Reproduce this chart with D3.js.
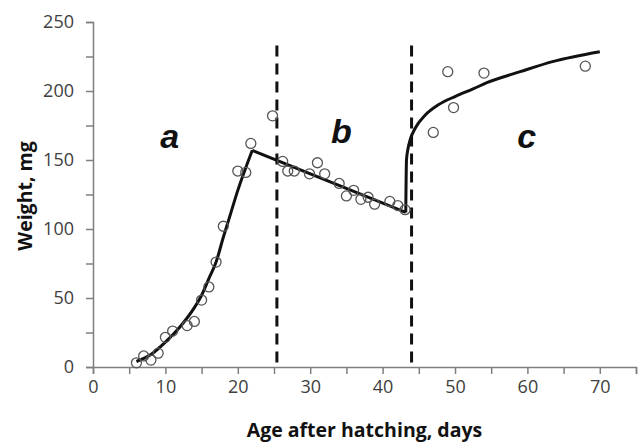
<!DOCTYPE html>
<html>
<head>
<meta charset="utf-8">
<script src="https://cdn.jsdelivr.net/npm/d3@7"></script>
<style>
    html, body {margin: 0; padding: 0; background: #fff;}
    .axis text {font-family: "Open Sans", sans-serif; font-size: 18px; fill: #404040;}
    .axis path, .axis line {stroke: #7f7f7f; stroke-width: 1.5;}
    .axis-title {font-family: "Open Sans", sans-serif; font-size: 19.5px; font-weight: bold; fill: #111;}
    .phase-label {font-family: "Liberation Sans", Arial, sans-serif; font-size: 34px; font-weight: bold; font-style: italic; fill: #111;}
</style>
</head>
<body>
<svg id="growth"></svg>
<script>
// observed weights (days, mg)
var obsDays = [6, 7, 8, 9, 10, 11, 13, 14, 15, 16, 17, 18, 20, 21.1, 21.8, 24.8,
    26.2, 26.9, 27.8, 29.9, 31, 32, 34, 35, 36, 37, 38, 38.9, 41, 42.1, 43.1,
    47, 49, 49.8, 54, 68];
var obsWeight = [3, 8, 5, 10, 21.5, 26, 30, 33, 48.5, 58, 76, 102, 142, 141, 162, 182,
    149, 142, 142, 140, 148, 140, 133, 124, 128, 121.5, 123, 118, 120, 117, 114,
    170, 214, 188, 213, 218];
// fitted curves
var fitADays = [6, 8, 10, 12, 14, 15, 16, 17, 18, 19, 20, 21, 22];
var fitAWeight = [4, 9, 18, 29, 43, 52, 64, 76, 94, 111, 128, 143, 157];
var fitBDays = [22, 43.2];
var fitBWeight = [157, 112];
var fitCDays = [43.2, 43.3, 43.5, 43.8, 44.5, 45.9, 47.7, 50, 52.5, 54.4, 59, 63.6, 70];
var fitCWeight = [112, 150, 158, 164.5, 173, 182.6, 190, 196, 201.5, 206, 214, 221.5, 228.5];
// phase borders
var borderDays = [25.4, 44];
var borderTop = 233;
// phase labels
var phaseNames = ['a', 'b', 'c'];
var phaseDays = [10.6, 34.3, 59.9];
var phaseWeight = [159, 162, 159];
// ticks
var xTicks = [0, 5, 10, 15, 20, 25, 30, 35, 40, 45, 50, 55, 60, 65, 70, 75];
var yTicks = [0, 25, 50, 75, 100, 125, 150, 175, 200, 225, 250];

function drawGrowth(selector) {
    var svgWidth = 642,
        svgHeight = 442;
    var padding = {left: 93, right: 6, top: 22, bottom: 75};
    var svg = d3.select(selector)
        .attr('width', svgWidth)
        .attr('height', svgHeight);

    var x = d3.scaleLinear()
        .domain([0, 75])
        .range([padding.left, svgWidth - padding.right]);
    var y = d3.scaleLinear()
        .domain([0, 250])
        .range([svgHeight - padding.bottom, padding.top]);

    // x轴
    var xAxis = d3.axisBottom(x)
        .tickValues(xTicks)
        .tickSizeOuter(0)
        .tickSize(7)
        .tickPadding(6)
        .tickFormat(function(d) {return d % 10 === 0 ? d : '';});
    svg.append('g')
        .attr('class', 'axis')
        .attr('transform', 'translate(0, ' + y(0) + ')')
        .call(xAxis);
    // y轴
    var yAxis = d3.axisLeft(y)
        .tickValues(yTicks)
        .tickSizeOuter(0)
        .tickSize(7)
        .tickPadding(12)
        .tickFormat(function(d) {return d % 50 === 0 ? d : '';});
    svg.append('g')
        .attr('class', 'axis')
        .attr('transform', 'translate(' + x(0) + ', 0)')
        .call(yAxis);

    // 分段虚线
    svg.selectAll('.border')
        .data(borderDays)
        .enter()
        .append('line')
        .attr('class', 'border')
        .attr('x1', function(d) {return x(d);})
        .attr('x2', function(d) {return x(d);})
        .attr('y1', y(borderTop))
        .attr('y2', y(0))
        .attr('stroke', '#111')
        .attr('stroke-width', 3)
        .attr('stroke-dasharray', '11,7');

    // 拟合曲线
    var fits = [
        {days: fitADays, weight: fitAWeight, curve: d3.curveMonotoneX},
        {days: fitBDays, weight: fitBWeight, curve: d3.curveLinear},
        {days: fitCDays, weight: fitCWeight, curve: d3.curveMonotoneX}
    ];
    fits.forEach(function(f) {
        var line = d3.line()
            .x(function(d, i) {return x(f.days[i]);})
            .y(function(d, i) {return y(f.weight[i]);})
            .curve(f.curve);
        svg.append('path')
            .attr('d', line(f.days))
            .attr('fill', 'none')
            .attr('stroke', '#111')
            .attr('stroke-width', 3)
            .attr('stroke-linejoin', 'round');
    });

    // 观测点
    svg.selectAll('.dot')
        .data(obsDays)
        .enter()
        .append('circle')
        .attr('class', 'dot')
        .attr('cx', function(d) {return x(d);})
        .attr('cy', function(d, i) {return y(obsWeight[i]);})
        .attr('r', 5)
        .attr('fill', 'none')
        .attr('stroke', '#555')
        .attr('stroke-width', 1.3);

    // 阶段标签
    svg.selectAll('.phase-label')
        .data(phaseNames)
        .enter()
        .append('text')
        .attr('class', 'phase-label')
        .attr('x', function(d, i) {return x(phaseDays[i]);})
        .attr('y', function(d, i) {return y(phaseWeight[i]);})
        .attr('text-anchor', 'middle')
        .text(function(d) {return d;});

    // 轴标题
    svg.append('text')
        .attr('class', 'axis-title')
        .attr('x', (x(0) + x(75)) / 2)
        .attr('y', 437)
        .attr('text-anchor', 'middle')
        .text('Age after hatching, days');
    svg.append('text')
        .attr('class', 'axis-title')
        .attr('transform', 'translate(32, ' + 196 + ') rotate(-90)')
        .attr('text-anchor', 'middle')
        .text('Weight, mg');
}
drawGrowth('#growth');
</script>
</body>
</html>
